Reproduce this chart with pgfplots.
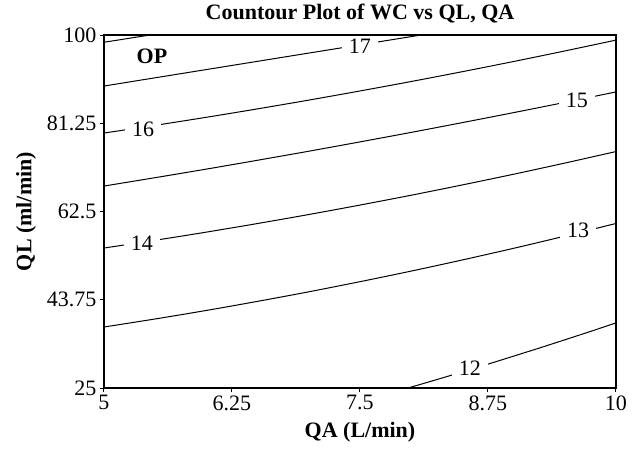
\documentclass[border=0pt]{standalone}
\usepackage{fontspec}
\setmainfont{Liberation Serif}
\usepackage{pgfplots}
\pgfplotsset{compat=1.18}
\newcommand{\bigf}{\fontsize{22}{26}\selectfont}
\begin{document}
\begin{tikzpicture}
\useasboundingbox (-104pt,-60pt) rectangle (534pt,388pt);
\begin{axis}[
  at={(0pt,0pt)}, anchor=south west,
  scale only axis, width=512pt, height=353pt,
  xmin=5, xmax=10, ymin=25, ymax=100,
  xtick={5,6.25,7.5,8.75,10}, xticklabels={5,6.25,7.5,8.75,10},
  ytick={25,43.75,62.5,81.25,100}, yticklabels={25,43.75,62.5,81.25,100},
  tick align=outside, major tick length=4pt, tick pos=left,
  tick style={black, line width=1pt},
  axis line style={line width=1.4pt},
  ticklabel style={font=\bigf},
  /pgf/number format/assume math mode=true,
  title={\textbf{Countour Plot of WC vs QL, QA}},
  title style={font=\bigf, at={(axis description cs:0.5,1.0283)}, anchor=base},
  xlabel={\textbf{QA (L/min)}},
  xlabel style={font=\bigf, at={(axis description cs:0.5,-0.1416)}, anchor=base},
  ylabel={\textbf{QL (ml/min)}},
  ylabel style={font=\bigf, at={(axis description cs:-0.152,0.5)}, anchor=center},
  axis on top,
]
% 18 (unlabeled)
\addplot[black, line width=1pt] coordinates {(5,98.46) (5.449,100)};
% 17
\addplot[black, line width=1pt] coordinates {(5,89.16) (6,92.66) (7,96.16) (8.097,100)};
% 16
\addplot[black, line width=1pt, smooth] coordinates {(5,79.17) (5.5,80.81) (6,82.52) (6.5,84.31) (7,86.17) (7.5,88.11) (8,90.12) (8.5,92.21) (9,94.37) (9.5,96.61) (10,98.92)};
% 15
\addplot[black, line width=1pt, smooth] coordinates {(5,67.91) (5.5,69.69) (6,71.51) (6.5,73.39) (7,75.31) (7.5,77.29) (8,79.31) (8.5,81.39) (9,83.51) (9.5,85.68) (10,87.91)};
% 14
\addplot[black, line width=1pt, smooth] coordinates {(5,54.74) (5.5,56.39) (6,58.12) (6.5,59.95) (7,61.86) (7.5,63.87) (8,65.96) (8.5,68.15) (9,70.42) (9.5,72.79) (10,75.24)};
% 13
\addplot[black, line width=1pt, smooth] coordinates {(5,37.96) (5.5,39.67) (6,41.48) (6.5,43.41) (7,45.44) (7.5,47.59) (8,49.84) (8.5,52.21) (9,54.68) (9.5,57.27) (10,59.96)};
% 12
\addplot[black, line width=1pt, smooth] coordinates {(7.969,25) (8.25,26.79) (8.5,28.42) (8.75,30.07) (9,31.77) (9.25,33.48) (9.5,35.24) (9.75,37.01) (10,38.83)};
\begin{scope}[every node/.style={fill=white, inner xsep=7pt, inner ysep=0.5pt, font=\bigf}]
\node at (axis cs:7.5,97.7) {17};
\node at (axis cs:5.381,80.02) {16};
\node at (axis cs:9.619,86.19) {15};
\node at (axis cs:5.371,55.80) {14};
\node at (axis cs:9.629,58.57) {13};
\node at (axis cs:8.574,29.25) {12};
\end{scope}
\node[font=\bigf\bfseries] at (axis cs:5.469,95.53) {OP};
\draw[line width=2.2pt] (rel axis cs:0,0) -- (rel axis cs:0,1);
\end{axis}
\end{tikzpicture}
\end{document}
